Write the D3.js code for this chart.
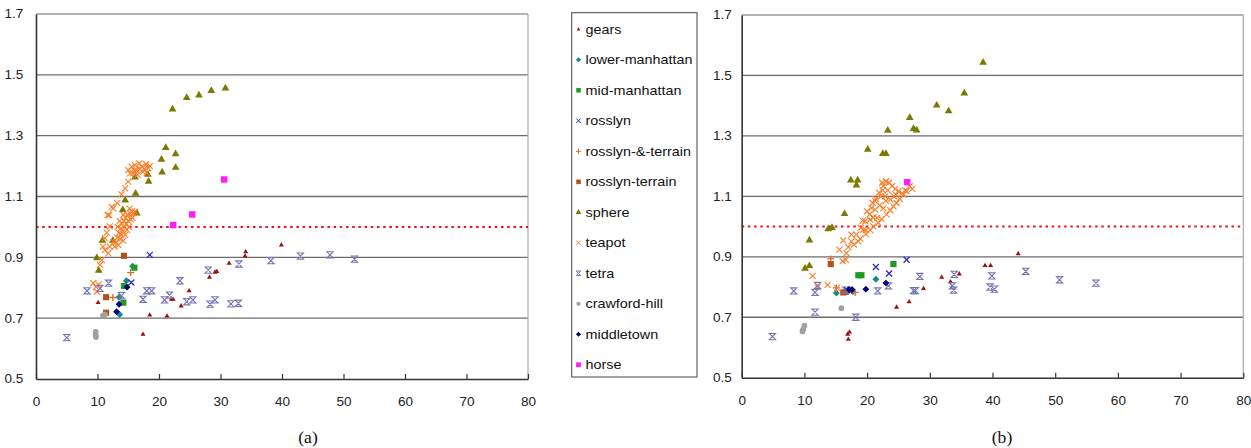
<!DOCTYPE html>
<html><head><meta charset="utf-8">
<script src="https://cdn.jsdelivr.net/npm/d3@7"></script>
<style>body{margin:0;background:#fff}svg{display:block}</style>
</head><body>
<svg id="c" width="1251" height="448"></svg>
<script>
// ---------- tick labels / categories ----------
const seriesNames = ["gears","lower-manhattan","mid-manhattan","rosslyn","rosslyn-&-terrain","rosslyn-terrain","sphere","teapot","tetra","crawford-hill","middletown","horse"];
const xTickValues = [0,10,20,30,40,50,60,70,80];
const yTickValues = [0.5,0.7,0.9,1.1,1.3,1.5,1.7];
const panelLabels = ["(a)","(b)"];
const thresholdValue = 1.0;

// ---------- panel (a) data ----------
const gearsA = [[10.1,0.751],[17.4,0.647],[18.5,0.71],[21.3,0.707],[22.0,0.762],[22.3,0.762],[23.6,0.74],[24.9,0.79],[28.2,0.834],[29.1,0.851],[29.4,0.853],[31.4,0.88],[34.0,0.904],[34.1,0.918],[39.9,0.94]];
const lowerManhattanA = [[14.7,0.823],[13.5,0.769],[13.6,0.712],[15.7,0.871]];
const midManhattanA = [[16.0,0.866],[14.3,0.806],[14.2,0.751]];
const rosslynA = [[15.5,0.817],[18.5,0.908]];
const rosslynAndTerrainA = [[12.5,0.768],[15.4,0.85]];
const rosslynTerrainA = [[14.3,0.905],[11.4,0.769],[11.4,0.718]];
const sphereA = [[22.2,1.387],[24.5,1.425],[26.5,1.433],[28.5,1.448],[30.8,1.456],[21.1,1.26],[22.7,1.24],[20.4,1.222],[20.5,1.18],[22.7,1.195],[18.2,1.172],[18.3,1.149],[16.1,1.163],[16.2,1.11],[14.5,1.088],[14.1,1.056],[16.4,1.045],[10.8,0.955],[12.5,0.955],[9.9,0.898],[10.2,0.857]];
const teapotA = [[9.3,0.815],[9.75,0.803],[9.9,0.787],[10.2,0.81],[10.4,0.875],[10.7,0.891],[11.2,0.924],[11.75,0.913],[12.0,0.935],[12.6,0.951],[10.9,0.935],[11.2,0.963],[11.5,0.981],[12.0,1.002],[11.9,1.039],[12.3,1.066],[11.65,1.039],[12.56,1.061],[13.2,1.078],[13.9,1.107],[14.5,1.127],[15.0,1.149],[15.3,1.176],
  [15.55,1.198],[16.09,1.203],[16.36,1.187],[16.8,1.209],[17.2,1.198],[17.4,1.181],[17.9,1.206],[18.25,1.193],[18.5,1.2],[16.5,1.171],[15.8,1.176],[15.0,1.187],[16.0,1.185],[17.6,1.19],[18.0,1.178],[16.9,1.19],
  [12.8,0.935],[13.0,0.95],[13.2,0.965],[13.4,0.94],[13.5,0.98],[13.7,0.96],[13.8,0.995],[13.9,0.975],[14.0,1.01],[14.1,0.985],[14.2,0.955],[14.3,1.02],[14.4,1.0],[14.5,0.975],[14.6,1.03],[14.7,1.01],[14.8,0.99],[14.9,1.04],[15.0,1.02],[15.1,1.0],[15.3,1.045],[15.4,1.025],[15.6,1.05],[15.7,1.03],[15.9,1.045],[16.1,1.05],[13.6,1.02],[14.2,1.04],[13.3,1.0],[15.2,1.06]];
const tetraA = [[5.0,0.636],[8.3,0.79],[10.4,0.798],[11.8,0.815],[13.9,0.774],[17.4,0.762],[18.0,0.79],[18.8,0.79],[20.9,0.76],[21.7,0.776],[23.4,0.823],[24.5,0.754],[25.5,0.76],[28.0,0.858],[28.3,0.746],[29.1,0.76],[31.7,0.747],[32.9,0.749],[33.0,0.878],[38.2,0.889],[43.0,0.904],[47.8,0.908],[51.8,0.894]];
const crawfordHillA = [[9.7,0.655],[9.7,0.645],[9.75,0.638],[10.9,0.708],[11.2,0.712]];
const middletownA = [[13.1,0.721],[13.5,0.746],[14.8,0.802]];
const horseA = [[30.6,1.156],[25.4,1.041],[22.3,1.006]];

// ---------- panel (b) data ----------
const gearsB = [[16.9,0.644],[17.2,0.651],[17.0,0.627],[24.7,0.733],[26.7,0.751],[29.0,0.795],[31.9,0.832],[33.3,0.817],[34.7,0.843],[38.8,0.871],[39.7,0.871],[44.1,0.91]];
const lowerManhattanB = [[15.1,0.78],[17.7,0.784],[21.4,0.826]];
const midManhattanB = [[18.6,0.839],[19.1,0.839],[24.2,0.876]];
const rosslynB = [[21.4,0.866],[23.5,0.845],[26.3,0.89],[16.8,0.79]];
const rosslynAndTerrainB = [[14.2,0.893],[15.1,0.797],[16.9,0.788],[18.1,0.782]];
const rosslynTerrainB = [[14.2,0.876],[16.2,0.782],[16.6,0.784]];
const sphereB = [[38.5,1.543],[35.5,1.441],[31.1,1.401],[33.0,1.382],[26.8,1.36],[27.4,1.324],[27.9,1.319],[23.3,1.318],[20.1,1.255],[22.5,1.241],[23.0,1.241],[17.4,1.153],[18.5,1.153],[18.3,1.137],[16.4,1.042],[14.4,0.996],[13.8,0.992],[10.8,0.955],[10.8,0.87],[10.1,0.861]];
const teapotB = [[11.3,0.837],[12.1,0.80],[13.7,0.807],[15.2,0.797],
  [16.1,0.886],[15.6,0.924],[16.2,0.954],[16.7,0.912],[17.0,0.932],[17.5,0.951],[17.5,0.973],[18.3,0.973],[18.6,0.951],[19.0,0.996],[19.8,0.988],[19.7,1.017],[20.4,1.040],[20.7,1.062],[21.3,1.084],[21.9,1.112],[22.6,1.134],[23.0,1.150],[22.4,1.145],[23.5,1.145],[24.0,1.135],[24.5,1.125],[25.0,1.117],[25.6,1.11],[26.1,1.12],[26.8,1.133],[27.2,1.125],[26.3,1.117],[25.8,1.106],[25.2,1.092],[24.7,1.078],[24.2,1.067],[23.7,1.054],[23.1,1.040],[22.3,1.025],[21.8,1.012],[21.0,1.001],[20.5,0.988],[19.8,0.975],[21.4,1.092],[20.9,1.078],[21.3,1.056],[21.6,1.029],[20.5,1.023],[22.2,1.10],[22.9,1.10],[23.7,1.089],[24.3,1.10],[22.0,1.07],[22.6,1.06],[23.3,1.12],[24.6,1.105],[20.0,1.05],[19.3,1.02],[18.9,0.96],[19.4,0.99],[17.9,0.94],[16.6,0.89],[23.0,1.085],[22.5,1.12],[21.0,1.03]];
const tetraB = [[4.9,0.636],[8.3,0.787],[11.7,0.717],[11.7,0.782],[12.1,0.805],[18.2,0.70],[21.7,0.787],[27.4,0.788],[27.7,0.788],[28.4,0.835],[33.6,0.804],[33.8,0.79],[33.9,0.842],[39.9,0.837],[39.6,0.80],[40.3,0.793],[45.3,0.852],[50.7,0.824],[56.5,0.813],[16.6,0.79],[23.4,0.804]];
const crawfordHillB = [[10.0,0.672],[9.8,0.66],[9.7,0.653],[15.9,0.73]];
const middletownB = [[17.1,0.792],[17.6,0.792],[19.8,0.793],[23.0,0.813]];
const horseB = [[26.4,1.147]];

// ---------- assemble ----------
const dataA = [gearsA,lowerManhattanA,midManhattanA,rosslynA,rosslynAndTerrainA,rosslynTerrainA,sphereA,teapotA,tetraA,crawfordHillA,middletownA,horseA];
const dataB = [gearsB,lowerManhattanB,midManhattanB,rosslynB,rosslynAndTerrainB,rosslynTerrainB,sphereB,teapotB,tetraB,crawfordHillB,middletownB,horseB];

const styles = [
  {shape:"tri", size:11, color:"#9a0f0f"},
  {shape:"dia", size:24, color:"#168a8a"},
  {shape:"sq", size:38, color:"#1f9a25"},
  {shape:"x", size:3, color:"#2a2ad0"},
  {shape:"plus", size:3.5, color:"#d8682c"},
  {shape:"sq", size:38, color:"#b2541a"},
  {shape:"tri", size:26, color:"#7a7a00"},
  {shape:"x", size:3, color:"#ff7a22"},
  {shape:"hour", size:3.1, color:"#7474b6"},
  {shape:"circ", size:26, color:"#a0a0a0"},
  {shape:"dia", size:24, color:"#000078"},
  {shape:"sq", size:42, color:"#ff1cff"}
];

function markerPath(st, k){
  const s = st.size*k;
  switch(st.shape){
    case "tri": return d3.symbol(d3.symbolTriangle, s)();
    case "sq": return d3.symbol(d3.symbolSquare, s)();
    case "dia": return d3.symbol(d3.symbolSquare, s)();
    case "circ": return d3.symbol(d3.symbolCircle, s)();
    case "x": return `M${-s},${-s}L${s},${s}M${-s},${s}L${s},${-s}`;
    case "plus": return `M${-s},0L${s},0M0,${-s}L0,${s}`;
    case "hour": return `M${-s},${-s}L${s},${-s}L${-s},${s}L${s},${s}Z`;
  }
}
function applyMarker(sel, st){
  const stroked = st.shape==="x"||st.shape==="plus"||st.shape==="hour";
  sel.attr("fill", stroked ? "none" : st.color)
     .attr("stroke", stroked ? st.color : "none")
     .attr("stroke-width", st.shape==="hour" ? 1.1 : (st.shape==="x" && st.color==="#ff7a22" ? 1.1 : 1.3));
}

const svg = d3.select("#c");
svg.append("rect").attr("width",1251).attr("height",448).attr("fill","#fff");

const panels = [
  {data:dataA, left:36, right:528, top:14, bottom:379, labelPad:11.2, label:panelLabels[0], labelX:308},
  {data:dataB, left:741.7, right:1243.3, top:15, bottom:377.7, labelPad:8.7, label:panelLabels[1], labelX:1002}
];
const SX = 1.13; // horizontal stretch of the original text
const FONT = "'Liberation Sans', Arial, sans-serif";

panels.forEach(p=>{
  const x = d3.scaleLinear().domain([0,80]).range([p.left,p.right]);
  const y = d3.scaleLinear().domain([0.5,1.7]).range([p.bottom,p.top]);
  const g = svg.append("g");

  // gridlines
  g.selectAll("line.grid").data(yTickValues.filter(v=>v>0.5)).enter().append("line")
    .attr("x1",p.left).attr("x2",p.right).attr("y1",d=>y(d)).attr("y2",d=>y(d))
    .attr("stroke",d=>d===1.7?"#9a9a9a":"#6c6c6c").attr("stroke-width",1.3);
  // right border
  g.append("line").attr("x1",p.right).attr("x2",p.right).attr("y1",p.top).attr("y2",p.bottom)
    .attr("stroke","#aaa").attr("stroke-width",1.2);

  // threshold
  g.append("line").attr("x1",p.left).attr("x2",p.right)
    .attr("y1",y(thresholdValue)).attr("y2",y(thresholdValue))
    .attr("stroke","#e8141a").attr("stroke-width",2).attr("stroke-dasharray","2.5,3.7");

  // points
  p.data.forEach((pts,i)=>{
    const st = styles[i];
    const sel = g.append("g").selectAll("path").data(pts).enter().append("path")
      .attr("d", markerPath(st,1))
      .attr("transform", d=>`translate(${x(d[0])},${y(d[1])})${st.shape==="dia"?" rotate(45)":""}`);
    applyMarker(sel, st);
  });

  // x axis
  const xa = g.append("g").attr("transform",`translate(0,${p.bottom})`)
    .call(d3.axisBottom(x).tickValues(xTickValues).tickSizeInner(-5).tickSizeOuter(0).tickPadding(18.5));
  xa.select(".domain").attr("stroke","#333").attr("stroke-width",1.6);
  xa.selectAll(".tick line").attr("stroke","#333").attr("stroke-width",1.2);
  xa.selectAll(".tick text").attr("font-family",FONT)
    .attr("font-size",12).attr("fill","#222").attr("transform",`scale(${SX},1)`);

  // y axis
  const ya = g.append("g").attr("transform",`translate(${p.left},0)`)
    .call(d3.axisLeft(y).tickValues(yTickValues).tickSize(0).tickPadding(p.labelPad).tickFormat(d3.format(".1f")));
  ya.select(".domain").attr("stroke","#333").attr("stroke-width",1.6);
  ya.selectAll(".tick text").attr("font-family",FONT)
    .attr("font-size",12).attr("fill","#222").attr("transform",`scale(${SX},1)`);

  // caption
  svg.append("text").attr("transform",`translate(${p.labelX},443) scale(1.1,1)`)
    .attr("text-anchor","middle").attr("font-family","'Liberation Serif','Times New Roman',serif")
    .attr("font-size",16).attr("fill","#111").text(p.label);
});

// legend
const lg = svg.append("g");
lg.append("rect").attr("x",571.7).attr("y",12.7).attr("width",125.3).attr("height",364.3)
  .attr("fill","#fff").attr("stroke","#555").attr("stroke-width",1.1);
seriesNames.forEach((name,i)=>{
  const cy = 29.3 + i*30.5;
  const st = styles[i];
  const m = lg.append("path").attr("d", markerPath(st, st.shape==="x"||st.shape==="plus"||st.shape==="hour"?0.75:0.55))
    .attr("transform",`translate(578.5,${cy})${st.shape==="dia"?" rotate(45)":""}`);
  applyMarker(m, st);
  m.attr("stroke-width",1);
  lg.append("text").attr("transform",`translate(585.5,${cy+4.5}) scale(1.15,1)`)
    .attr("font-family",FONT).attr("font-size",12.5)
    .attr("fill","#111").text(name);
});
</script>
</body></html>
